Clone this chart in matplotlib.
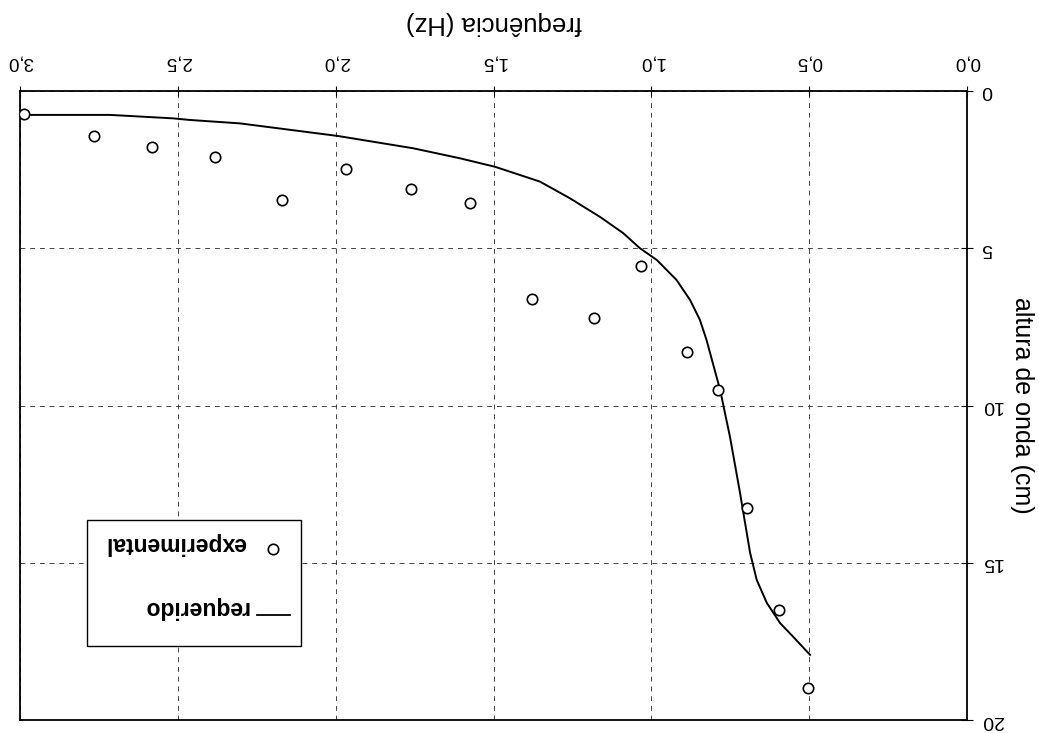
import matplotlib
matplotlib.use('Agg')
import matplotlib.pyplot as plt
from matplotlib.ticker import FuncFormatter, FixedLocator
from matplotlib.patches import Rectangle
from matplotlib.lines import Line2D

plt.rcParams['font.family'] = ['Liberation Sans', 'DejaVu Sans']

# ---- data ----
req_freq = [2.984, 2.715, 2.515, 2.463, 2.303, 1.993, 1.755, 1.606, 1.495, 1.353,
            1.258, 1.163, 1.089, 1.036, 0.983, 0.920, 0.877, 0.846, 0.825, 0.782,
            0.751, 0.719, 0.687, 0.666, 0.634, 0.592, 0.551, 0.497]
req_height = [0.76, 0.76, 0.87, 0.92, 1.03, 1.43, 1.82, 2.14, 2.41, 2.88,
              3.41, 4.00, 4.52, 5.00, 5.37, 6.01, 6.65, 7.28, 7.92, 9.51,
              10.99, 12.78, 14.69, 15.55, 16.28, 16.92, 17.35, 17.93]

exp_freq = [2.986, 2.764, 2.583, 2.383, 1.966, 1.760, 2.171, 1.574,
            1.033, 1.379, 1.181, 0.886, 0.788, 0.696, 0.595, 0.505]
exp_height = [0.74, 1.42, 1.79, 2.10, 2.47, 3.12, 3.48, 3.57,
              5.56, 6.61, 7.23, 8.29, 9.52, 13.26, 16.50, 18.97]

x_ticks = [0.0, 0.5, 1.0, 1.5, 2.0, 2.5, 3.0]
y_ticks = [0, 5, 10, 15, 20]
x_label = 'frequência (Hz)'
y_label = 'altura de onda (cm)'
legend_labels = ['requerido', 'experimental']

# ---- figure ----
W, H = 1039, 733
fig = plt.figure(figsize=(W / 100, H / 100), dpi=100)
ax = fig.add_axes([20 / W, 1 - 720 / H, 947 / W, 629 / H])

# picture is turned upside down: invert both axes
ax.set_xlim(3.0, 0.0)
ax.set_ylim(20, 0)

ax.xaxis.tick_top()
ax.xaxis.set_label_position('top')
ax.yaxis.tick_right()
ax.yaxis.set_label_position('right')

ax.xaxis.set_major_locator(FixedLocator(x_ticks))
ax.yaxis.set_major_locator(FixedLocator(y_ticks))
ax.xaxis.set_major_formatter(FuncFormatter(lambda v, p: f"{v:.1f}".replace('.', ',')))
ax.yaxis.set_major_formatter(FuncFormatter(lambda v, p: f"{int(round(v))}"))

ax.tick_params(axis='x', direction='inout', length=7, width=0.8, pad=11,
               labelsize=13.5, labelrotation=180, colors='black')
ax.tick_params(axis='y', direction='inout', length=8, width=0.8, pad=6,
               labelsize=14, labelrotation=180, colors='black')
for t in ax.get_yticklabels():
    t.set_verticalalignment('center')

for s in ax.spines.values():
    s.set_linewidth(1.3)
    s.set_color('black')

ax.grid(True, color='#444444', linestyle=(0, (5, 5)), linewidth=0.7)
ax.set_axisbelow(True)

ax.plot(req_freq, req_height, color='black', linewidth=1.4, zorder=3,
        solid_joinstyle='round')
ax.plot(exp_freq, exp_height, linestyle='none', marker='o', markersize=7.5,
        markerfacecolor='white', markeredgecolor='black', markeredgewidth=1.2,
        zorder=4)

ax.set_xlabel(x_label, fontsize=18.5, rotation=180, ha='center', va='center')
ax.xaxis.set_label_coords(0.5, (720 - 23) / 629)
ax.set_ylabel(y_label, fontsize=18, rotation=270, ha='center', va='center')
ax.yaxis.set_label_coords((1022 - 20) / 947, 0.5)


# ---- legend (drawn upside down, as in the picture) ----
def axx(px):
    return (px - 20) / 947


def axy(py):
    return (720 - py) / 629


box = Rectangle((axx(87), axy(646)), axx(301) - axx(87), axy(520) - axy(646),
                transform=ax.transAxes, facecolor='white', edgecolor='black',
                linewidth=1.0, zorder=6)
ax.add_patch(box)
ax.text(axx(246), axy(543), legend_labels[1], transform=ax.transAxes,
        rotation=180, ha='right', va='center', fontsize=16.5, fontweight='bold',
        zorder=7)
ax.text(axx(248), axy(607), legend_labels[0], transform=ax.transAxes,
        rotation=180, ha='right', va='center', fontsize=16.5, fontweight='bold',
        zorder=7)
ax.add_line(Line2D([axx(272.7)], [axy(549)], transform=ax.transAxes,
                   linestyle='none', marker='o', markersize=7.5,
                   markerfacecolor='white', markeredgecolor='black',
                   markeredgewidth=1.2, zorder=7))
ax.add_line(Line2D([axx(256.7), axx(290)], [axy(615), axy(615)],
                   transform=ax.transAxes, color='black', linewidth=1.3,
                   zorder=7))

fig.savefig('out.png', dpi=100)
